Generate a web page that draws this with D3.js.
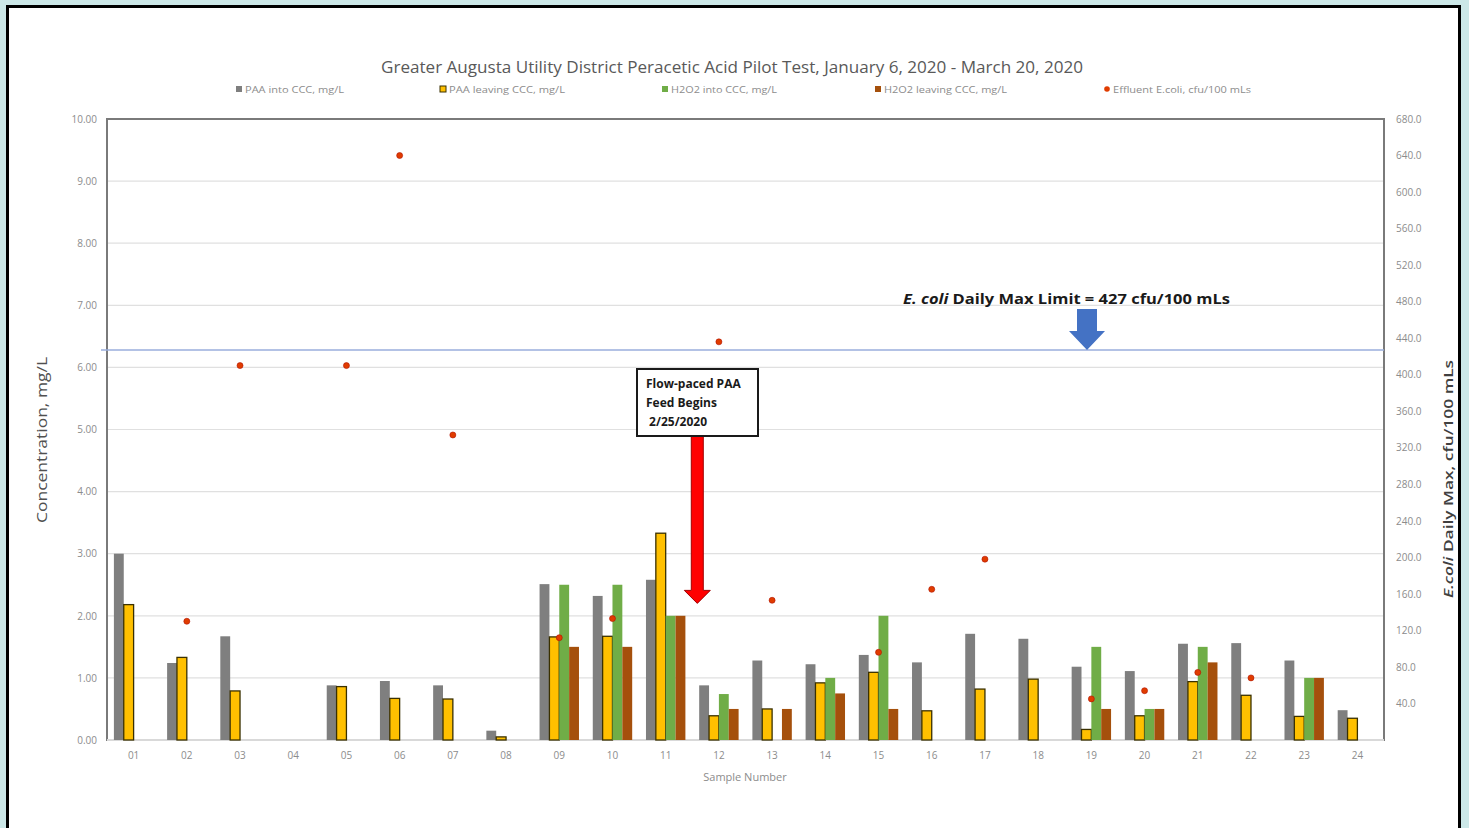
<!DOCTYPE html>
<html>
<head>
<meta charset="utf-8">
<script src="https://cdn.jsdelivr.net/npm/d3@7"></script>
<style>
  body { margin: 0; background: #cce8e8; }
  svg text { font-family: "Open Sans", "Liberation Sans", sans-serif; }
</style>
</head>
<body>
<div id="chart"></div>
<script>
// Data
var samples = ["01","02","03","04","05","06","07","08","09","10","11","12",
               "13","14","15","16","17","18","19","20","21","22","23","24"];
var paaInto    = [3.00,1.24,1.67,null,0.88,0.95,0.88,0.15,2.51,2.32,2.58,0.88,
                  1.28,1.22,1.37,1.25,1.71,1.63,1.18,1.11,1.55,1.56,1.28,0.48];
var paaLeaving = [2.18,1.33,0.79,null,0.86,0.67,0.66,0.05,1.66,1.67,3.33,0.39,
                  0.50,0.92,1.09,0.47,0.82,0.98,0.17,0.39,0.94,0.72,0.38,0.35];
var h2o2Into   = [null,null,null,null,null,null,null,null,2.50,2.50,2.00,0.74,
                  null,1.00,2.00,null,null,null,1.50,0.50,1.50,null,1.00,null];
var h2o2Leaving= [null,null,null,null,null,null,null,null,1.50,1.50,2.00,0.50,
                  0.50,0.75,0.50,null,null,null,0.50,0.50,1.25,null,1.00,null];
var ecoli      = [null,130,410,null,410,640,334,null,112,133,null,436,
                  153,null,96,165,198,null,45,54,74,68,null,null];
var ecoliLimit = 427;
var leftTicks = [0,1,2,3,4,5,6,7,8,9,10];
var rightTicks = [40,80,120,160,200,240,280,320,360,400,440,480,520,560,600,640,680];

var seriesNames = ["PAA into CCC, mg/L","PAA leaving CCC, mg/L","H2O2 into CCC, mg/L",
                   "H2O2 leaving CCC, mg/L","Effluent E.coli, cfu/100 mLs"];
var seriesColors = ["#7f7f7f","#ffc000","#70ad47","#a5500c","#e03c00"];

var svgWidth = 1469, svgHeight = 828;
var margin = {top: 119, right: 85, bottom: 88, left: 107};
var width = svgWidth - margin.left - margin.right;
var height = svgHeight - margin.top - margin.bottom;

var svg = d3.select("#chart").append("svg")
  .attr("width", svgWidth)
  .attr("height", svgHeight);

// white panel with black frame
svg.append("rect")
  .attr("x", 7.5).attr("y", 6.5)
  .attr("width", 1452).attr("height", 830)
  .attr("fill", "#fff").attr("stroke", "#000").attr("stroke-width", 3);

var chartGroup = svg.append("g")
  .attr("transform", `translate(${margin.left}, ${margin.top})`);

// Scales
var xScale = d3.scaleBand().domain(samples).range([0, width]);
var yLeft = d3.scaleLinear().domain([0, 10]).range([height, 0]);
var yRight = d3.scaleLinear().domain([0, 680]).range([height, 0]);
var barX = d3.scaleBand().domain([0,1,2,3])
  .range([0, xScale.bandwidth()]).paddingOuter(0.7);

// gridlines
chartGroup.append("g")
  .selectAll("line").data(leftTicks).enter().append("line")
  .attr("x1", 0).attr("x2", width)
  .attr("y1", d => yLeft(d)).attr("y2", d => yLeft(d))
  .attr("stroke", "#e0e0e0").attr("stroke-width", 1.2);

// axes
var leftAxis = d3.axisLeft(yLeft).tickValues(leftTicks).tickSize(0).tickPadding(10)
  .tickFormat(d3.format(".2f"));
var rightAxis = d3.axisRight(yRight).tickValues(rightTicks).tickSize(0).tickPadding(12)
  .tickFormat(d3.format(".1f"));
var bottomAxis = d3.axisBottom(xScale).tickSize(0).tickPadding(12);

var gl = chartGroup.append("g").call(leftAxis);
var gr = chartGroup.append("g").attr("transform", `translate(${width},0)`).call(rightAxis);
var gb = chartGroup.append("g").attr("transform", `translate(0,${height})`).call(bottomAxis);
[gl, gr, gb].forEach(function (g) {
  g.select(".domain").remove();
  g.selectAll("text").attr("fill", "#8c8c8c").style("font-size", "10px")
    .style("font-family", "'Open Sans', sans-serif");
});

// plot frame
chartGroup.append("rect")
  .attr("x", 0).attr("y", 0).attr("width", width).attr("height", height)
  .attr("fill", "none").attr("stroke", "#7a7a7a").attr("stroke-width", 2);
chartGroup.append("line")
  .attr("x1", 0).attr("x2", width).attr("y1", height).attr("y2", height)
  .attr("stroke", "#d9d9d9").attr("stroke-width", 2);

// bars
var barSeries = [paaInto, paaLeaving, h2o2Into, h2o2Leaving];
barSeries.forEach(function (vals, si) {
  chartGroup.append("g").selectAll("rect")
    .data(vals.map((v, i) => ({cat: samples[i], v: v})).filter(d => d.v != null))
    .enter().append("rect")
    .attr("x", d => xScale(d.cat) + barX(si))
    .attr("width", barX.bandwidth())
    .attr("y", d => yLeft(d.v))
    .attr("height", d => height - yLeft(d.v))
    .attr("fill", seriesColors[si])
    .attr("stroke", si == 1 ? "#3a3000" : "none")
    .attr("stroke-width", si == 1 ? 1.3 : 0);
});

// E. coli limit line
chartGroup.append("line")
  .attr("x1", -6).attr("x2", width)
  .attr("y1", yRight(ecoliLimit)).attr("y2", yRight(ecoliLimit))
  .attr("stroke", "#9aaedc").attr("stroke-width", 1.5);

// E. coli points
chartGroup.append("g").selectAll("circle")
  .data(ecoli.map((v, i) => ({cat: samples[i], v: v})).filter(d => d.v != null))
  .enter().append("circle")
  .attr("cx", d => xScale(d.cat) + xScale.bandwidth() / 2)
  .attr("cy", d => yRight(d.v))
  .attr("r", 3)
  .attr("fill", seriesColors[4]).attr("stroke", "#b01000").attr("stroke-width", 0.6);

// Title
svg.append("text")
  .attr("x", 732).attr("y", 73)
  .attr("text-anchor", "middle")
  .attr("fill", "#595959")
  .style("font-size", "16px")
  .attr("textLength", 702).attr("lengthAdjust", "spacingAndGlyphs")
  .text("Greater Augusta Utility District Peracetic Acid Pilot Test, January 6, 2020 - March 20, 2020");

// Legend
var legendX = [236, 440, 662, 875, 1104];
var legendW = [108, 125, 115, 132, 147];
var legend = svg.append("g");
seriesNames.forEach(function (name, i) {
  var g = legend.append("g").attr("transform", `translate(${legendX[i]}, 89)`);
  if (i == 4) {
    g.append("circle").attr("cx", 3).attr("cy", 0).attr("r", 2.8).attr("fill", seriesColors[4]);
  } else {
    g.append("rect").attr("x", 0).attr("y", -3).attr("width", 6).attr("height", 6)
      .attr("fill", seriesColors[i])
      .attr("stroke", i == 1 ? "#3a3000" : "none").attr("stroke-width", 1);
  }
  g.append("text").attr("x", 9).attr("y", 3.5)
    .attr("fill", "#8c8c8c").style("font-size", "9px")
    .attr("textLength", legendW[i] - 9).attr("lengthAdjust", "spacingAndGlyphs")
    .text(name);
});

// Axis titles
svg.append("text")
  .attr("transform", "translate(47, 440) rotate(-90)")
  .attr("text-anchor", "middle").attr("fill", "#505050")
  .style("font-size", "15px")
  .attr("textLength", 166).attr("lengthAdjust", "spacingAndGlyphs")
  .text("Concentration, mg/L");

var rt = svg.append("text")
  .attr("transform", "translate(1453, 479) rotate(-90)")
  .attr("text-anchor", "middle").attr("fill", "#404040")
  .style("font-size", "13px").style("font-weight", "600")
  .attr("textLength", 238).attr("lengthAdjust", "spacingAndGlyphs");
rt.append("tspan").style("font-style", "italic").text("E.coli");
rt.append("tspan").text("  Daily Max, cfu/100 mLs");

svg.append("text")
  .attr("x", 745).attr("y", 781)
  .attr("text-anchor", "middle").attr("fill", "#8c8c8c")
  .style("font-size", "11px")
  .text("Sample Number");

// Flow-paced annotation: box + red arrow pointing down between 11 and 12
var arrowX = xScale("12") + 5 + margin.left;
var boxTop = 369, boxBottom = 436;
var arrowTip = yLeft(2.2) + margin.top;
svg.append("path")
  .attr("d", `M${arrowX - 6},${boxBottom} L${arrowX + 6},${boxBottom} L${arrowX + 6},${arrowTip - 13}
    L${arrowX + 13},${arrowTip - 13} L${arrowX},${arrowTip} L${arrowX - 13},${arrowTip - 13}
    L${arrowX - 6},${arrowTip - 13} Z`)
  .attr("fill", "#ff0000").attr("stroke", "#a00000").attr("stroke-width", 1);

svg.append("rect")
  .attr("x", 637).attr("y", boxTop).attr("width", 121).attr("height", boxBottom - boxTop)
  .attr("fill", "#fff").attr("stroke", "#1a1a1a").attr("stroke-width", 2);
var boxLines = ["Flow-paced PAA", "Feed Begins", " 2/25/2020"];
boxLines.forEach(function (t, i) {
  svg.append("text")
    .attr("x", 646).attr("y", 388 + i * 19)
    .attr("fill", "#1a1a1a")
    .style("font-size", "12px").style("font-weight", "bold")
    .style("white-space", "pre")
    .text(t);
});

// Limit annotation: text + blue arrow pointing to the line
var ax2 = 1087;
var limitY = yRight(ecoliLimit) + margin.top;
svg.append("path")
  .attr("d", `M${ax2 - 10},309 L${ax2 + 10},309 L${ax2 + 10},331 L${ax2 + 18},331
    L${ax2},${limitY} L${ax2 - 18},331 L${ax2 - 10},331 Z`)
  .attr("fill", "#4472c4");

var lt = svg.append("text")
  .attr("x", 903).attr("y", 304)
  .attr("fill", "#1a1a1a")
  .style("font-size", "15px").style("font-weight", "bold")
  .attr("textLength", 327).attr("lengthAdjust", "spacingAndGlyphs");
lt.append("tspan").style("font-style", "italic").text("E. coli");
lt.append("tspan").text(" Daily Max Limit = 427 cfu/100 mLs");
</script>
</body>
</html>
